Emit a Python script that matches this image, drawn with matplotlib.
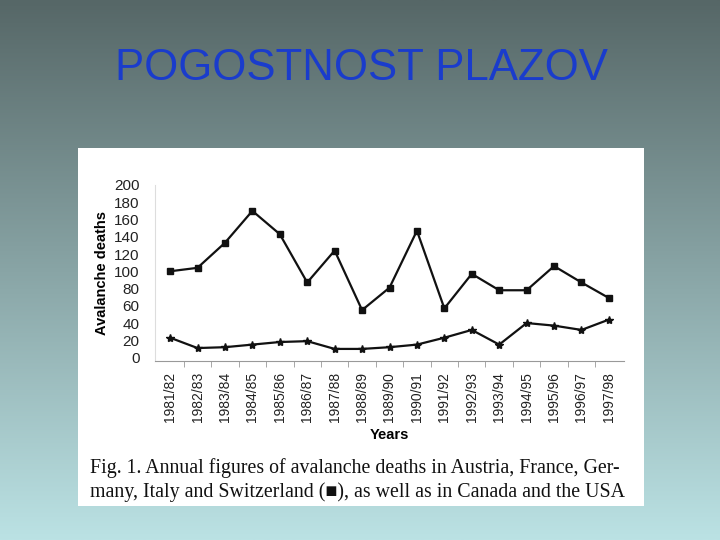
import numpy as np
import matplotlib
matplotlib.use("Agg")
import matplotlib.pyplot as plt
from matplotlib.patches import Rectangle

# Data
seasons = ["1981/82", "1982/83", "1983/84", "1984/85", "1985/86", "1986/87",
           "1987/88", "1988/89", "1989/90", "1990/91", "1991/92", "1992/93",
           "1993/94", "1994/95", "1995/96", "1996/97", "1997/98"]
europe = [100, 104, 133, 170, 143, 87, 124, 55, 81, 147, 57, 97, 78, 78, 106, 87, 69]
north_america = [23, 11, 12, 15, 18, 19, 10, 10, 12, 15, 23, 32, 15, 40, 37, 32, 44]
y_ticks = [0, 20, 40, 60, 80, 100, 120, 140, 160, 180, 200]

title = "POGOSTNOST PLAZOV"
caption_1 = "Fig. 1. Annual figures of avalanche deaths in Austria, France, Ger-"
caption_2 = "many, Italy and Switzerland (\u25a0), as well as in Canada and the USA"

W, H = 720, 540
fig = plt.figure(figsize=(W / 100, H / 100), dpi=100)

# slide background gradient
bg = fig.add_axes([0, 0, 1, 1], zorder=-10)
top = np.array([0x56, 0x67, 0x67]) / 255
bot = np.array([0xbb, 0xe2, 0xe4]) / 255
t = np.linspace(0, 1, 256)[:, None]
grad = top[None, :] * (1 - t) + bot[None, :] * t
bg.imshow(grad[:, None, :], aspect="auto", extent=[0, 1, 0, 1])
bg.set_axis_off()

fig.text(361 / W, 1 - 68 / H, title, ha="center", va="center",
         fontsize=31.5, color="#1a3ccc", family="Liberation Sans")

# white picture box
fig.patches.append(Rectangle((78 / W, 1 - 506 / H), (644 - 78) / W, (506 - 148) / H,
                             transform=fig.transFigure, facecolor="white",
                             edgecolor="none", zorder=-5))

ax = fig.add_axes([155 / W, 1 - 361 / H, (624 - 155) / W, (361 - 185) / H])
x = np.arange(len(seasons))
ax.plot(x, europe, color="#111111", lw=1.6, marker="s", ms=4.5)
ax.plot(x, north_america, color="#111111", lw=1.6, marker="*", ms=6)

ax.set_xlim(-0.55, 16.55)
ax.set_ylim(-4, 200)
ax.set_yticks(y_ticks)
ax.set_yticklabels([str(v) for v in y_ticks], fontsize=11, color="#222222",
                   family="Liberation Sans")
ax.tick_params(axis="y", length=0, pad=11)
ax.set_xticks(x)
ax.set_xticklabels(seasons, rotation=90, fontsize=10, color="#222222",
                   family="Liberation Sans")
ax.set_xticks(np.arange(len(seasons) - 1) + 0.5, minor=True)
ax.tick_params(axis="x", which="major", length=0, pad=8)
ax.tick_params(axis="x", which="minor", length=4, color="#999999", direction="out")

for s in ["top", "right"]:
    ax.spines[s].set_visible(False)
ax.spines["left"].set_color("#dddddd")
ax.spines["bottom"].set_color("#999999")

ax.set_xlabel("Years", fontsize=10.5, fontweight="bold", family="Liberation Sans", labelpad=4)
ax.set_ylabel("Avalanche deaths", fontsize=10.5, fontweight="bold",
              family="Liberation Sans", labelpad=4)

fig.text(90 / W, 1 - 468 / H, caption_1, ha="left", va="center",
         fontsize=14.3, family=["Liberation Serif", "DejaVu Sans"], color="#111111")
fig.text(90 / W, 1 - 492 / H, caption_2, ha="left", va="center",
         fontsize=14.3, family=["Liberation Serif", "DejaVu Sans"], color="#111111")

fig.savefig("out.png", dpi=100)
